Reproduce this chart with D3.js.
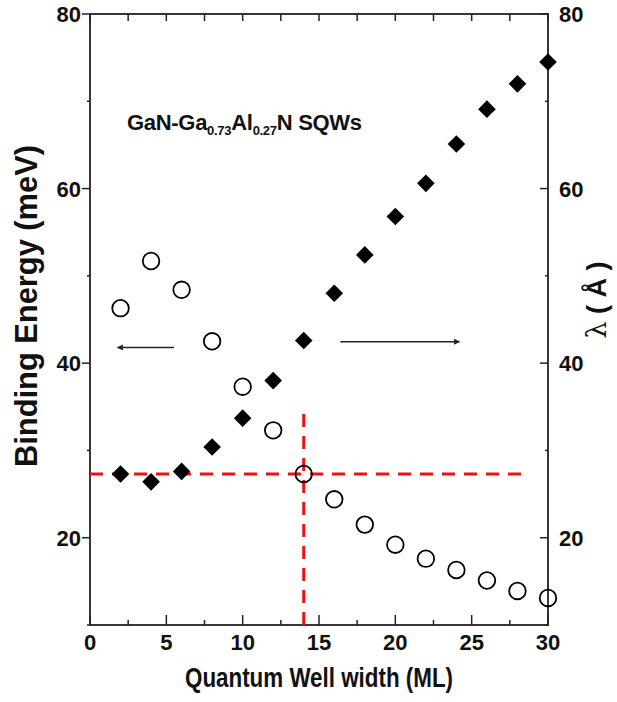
<!DOCTYPE html>
<html>
<head>
<meta charset="utf-8">
<script src="https://cdn.jsdelivr.net/npm/d3@7"></script>
<style>
  body { margin: 0; background: #fff; }
  svg { font-family: "Liberation Sans", Arial, sans-serif; }
  .tick-lbl { font-size: 22px; font-weight: bold; fill: #111; }
  .axis-title { font-weight: bold; fill: #111; }
</style>
</head>
<body>
<div id="graf"></div>
<script>
// quantum well width (ML)
const wellWidth = [2, 4, 6, 8, 10, 12, 14, 16, 18, 20, 22, 24, 26, 28, 30]
// binding energy (meV), open circles, left axis
const bindingEnergy = [46.3, 51.7, 48.4, 42.5, 37.3, 32.3, 27.3, 24.4, 21.5, 19.2, 17.6, 16.3, 15.1, 13.9, 13.1]
// lambda (Angstrom), filled diamonds, right axis
const lambda = [27.3, 26.4, 27.6, 30.4, 33.7, 38.0, 42.6, 48.0, 52.4, 56.8, 60.6, 65.1, 69.1, 72.0, 74.5]

const xTicks = [0, 5, 10, 15, 20, 25, 30]
const yTicks = [20, 40, 60, 80]

// red guide lines (data units)
const guideX = 14
const guideY = 27.3
const guideXEnd = 28.8
const guideYEnd = 35.2

const W = 617, H = 702
const margins = { left: 90, top: 14, right: 69, bottom: 77 }
const ancho = W - margins.left - margins.right
const alto = H - margins.top - margins.bottom

const svg = d3.select("#graf").append("svg")
  .attr("width", W).attr("height", H)

const g = svg.append("g")
  .attr("transform", `translate(${margins.left}, ${margins.top})`)

const x = d3.scaleLinear().domain([0, 30]).range([0, ancho])
const y = d3.scaleLinear().domain([10, 80]).range([alto, 0])

const ink = "#222"

// tick marks
const minorX = d3.range(0, 30.01, 2.5)
const minorY = d3.range(10, 80.01, 10)

minorX.forEach((v) => {
  const major = v % 5 === 0
  g.append("line").attr("x1", x(v)).attr("x2", x(v))
    .attr("y1", alto).attr("y2", alto - (major ? 10 : 5))
    .attr("stroke", ink).attr("stroke-width", 1.5)
  g.append("line").attr("x1", x(v)).attr("x2", x(v))
    .attr("y1", 0).attr("y2", 7)
    .attr("stroke", ink).attr("stroke-width", 1.5)
})
minorY.forEach((v) => {
  const major = v % 20 === 0
  g.append("line").attr("x1", 0).attr("x2", -(major ? 8 : 3))
    .attr("y1", y(v)).attr("y2", y(v))
    .attr("stroke", ink).attr("stroke-width", 1.5)
  g.append("line").attr("x1", ancho).attr("x2", ancho - (major ? 8 : 3))
    .attr("y1", y(v)).attr("y2", y(v))
    .attr("stroke", ink).attr("stroke-width", 1.5)
})

// frame
g.append("rect").attr("x", 0).attr("y", 0)
  .attr("width", ancho).attr("height", alto)
  .attr("fill", "none").attr("stroke", ink).attr("stroke-width", 1.8)

// tick labels
xTicks.forEach((v) => {
  g.append("text").attr("class", "tick-lbl")
    .attr("x", x(v)).attr("y", alto + 25)
    .attr("text-anchor", "middle")
    .text(v)
})
yTicks.forEach((v) => {
  g.append("text").attr("class", "tick-lbl")
    .attr("x", -9).attr("y", y(v) + 8)
    .attr("text-anchor", "end")
    .text(v)
  g.append("text").attr("class", "tick-lbl")
    .attr("x", ancho + 11).attr("y", y(v) + 8)
    .attr("text-anchor", "start")
    .text(v)
})

// axis titles
svg.append("text").attr("class", "axis-title")
  .attr("x", 319).attr("y", 687)
  .attr("text-anchor", "middle")
  .attr("font-size", 28)
  .attr("textLength", 268).attr("lengthAdjust", "spacingAndGlyphs")
  .text("Quantum Well width (ML)")

svg.append("text").attr("class", "axis-title")
  .attr("transform", "translate(37, 306) rotate(-90)")
  .attr("text-anchor", "middle")
  .attr("font-size", 31)
  .attr("textLength", 322).attr("lengthAdjust", "spacingAndGlyphs")
  .text("Binding Energy (meV)")

const lam = svg.append("text").attr("class", "axis-title")
  .attr("transform", "translate(606, 300) rotate(-90)")
  .attr("text-anchor", "middle")
  .attr("font-size", 27)
lam.append("tspan").style("font-weight", "normal")
  .attr("font-family", "'DejaVu Serif', serif").text("λ")
lam.append("tspan").text(" ( Å )")

// annotation
const ann = svg.append("text").attr("x", 127).attr("y", 130)
  .attr("font-size", 22).attr("fill", "#111")
  .attr("font-weight", "bold")
  .attr("letter-spacing", -0.3)
ann.append("tspan").text("GaN-Ga")
ann.append("tspan").attr("font-size", 13).attr("dy", 5).text("0.73")
ann.append("tspan").attr("dy", -5).text("Al")
ann.append("tspan").attr("font-size", 13).attr("dy", 5).text("0.27")
ann.append("tspan").attr("dy", -5).text("N SQWs")

// red dashed guides
g.append("line")
  .attr("x1", x(0)).attr("x2", x(guideXEnd))
  .attr("y1", y(guideY)).attr("y2", y(guideY))
  .attr("stroke", "#ee1111").attr("stroke-width", 3)
  .attr("stroke-dasharray", "13,9")
g.append("line")
  .attr("x1", x(guideX)).attr("x2", x(guideX))
  .attr("y1", alto).attr("y2", y(guideYEnd))
  .attr("stroke", "#ee1111").attr("stroke-width", 3)
  .attr("stroke-dasharray", "13,9")

// arrows
const defs = svg.append("defs")
defs.append("marker").attr("id", "ah")
  .attr("viewBox", "0 0 10 10").attr("refX", 9).attr("refY", 5)
  .attr("markerWidth", 9).attr("markerHeight", 6)
  .attr("markerUnits", "userSpaceOnUse")
  .attr("orient", "auto")
  .append("path").attr("d", "M0,0 L10,5 L0,10 z").attr("fill", ink)

g.append("line")
  .attr("x1", x(5.5)).attr("x2", x(1.8))
  .attr("y1", y(41.8)).attr("y2", y(41.8))
  .attr("stroke", ink).attr("stroke-width", 1.4)
  .attr("marker-end", "url(#ah)")
g.append("line")
  .attr("x1", x(16.4)).attr("x2", x(24.2))
  .attr("y1", y(42.45)).attr("y2", y(42.45))
  .attr("stroke", ink).attr("stroke-width", 1.4)
  .attr("marker-end", "url(#ah)")

// data
const puntos = wellWidth.map((w, i) => ({ w, e: bindingEnergy[i], l: lambda[i] }))

g.selectAll("path.diam").data(puntos).enter()
  .append("path").attr("class", "diam")
  .attr("d", d3.symbol(d3.symbolSquare, 155))
  .attr("transform", (d) => `translate(${x(d.w)}, ${y(d.l)}) rotate(45)`)
  .attr("fill", "#000")

g.selectAll("circle").data(puntos).enter()
  .append("circle")
  .attr("cx", (d) => x(d.w))
  .attr("cy", (d) => y(d.e))
  .attr("r", 8.3)
  .attr("fill", "none")
  .attr("stroke", "#000")
  .attr("stroke-width", 1.8)
</script>
</body>
</html>
